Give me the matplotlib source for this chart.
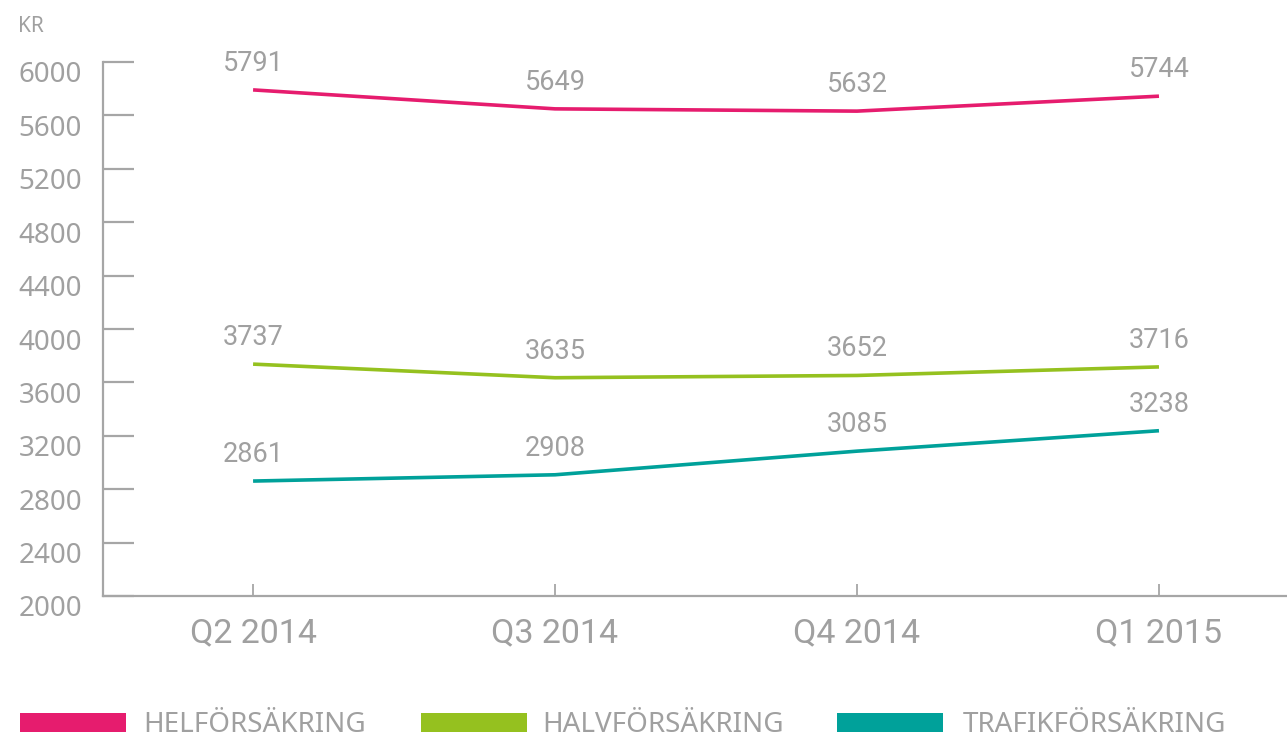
import matplotlib
matplotlib.use("Agg")
import matplotlib.pyplot as plt
import matplotlib.transforms as mtransforms
from matplotlib.patches import Rectangle

categories = ["Q2 2014", "Q3 2014", "Q4 2014", "Q1 2015"]
series_names = ["HELFÖRSÄKRING", "HALVFÖRSÄKRING", "TRAFIKFÖRSÄKRING"]
hel = [5791, 5649, 5632, 5744]
halv = [3737, 3635, 3652, 3716]
trafik = [2861, 2908, 3085, 3238]
yticks = [2000, 2400, 2800, 3200, 3600, 4000, 4400, 4800, 5200, 5600, 6000]
unit_label = "KR"

colors = ["#E61C6E", "#95C11F", "#00A19A"]
gray = "#A6A6A6"
text_gray = "#A0A0A0"
narrow = ["Roboto", "DejaVu Sans"]

W, H = 1287, 737
fig = plt.figure(figsize=(W / 100, H / 100), dpi=100)
ax = fig.add_axes([103 / W, 1 - 596 / H, 1 - 103 / W, (596 - 62) / H])

x = list(range(len(categories)))
for vals, c in zip([hel, halv, trafik], colors):
    ax.plot(x, vals, color=c, lw=2.6, solid_capstyle="butt", zorder=3)
    for xi, v in zip(x, vals):
        ax.annotate(str(v), (xi, v), xytext=(0, 19), textcoords="offset pixels",
                    ha="center", va="baseline", fontsize=19.5, fontweight="normal",
                    family=narrow, color=text_gray)

ax.set_xlim(-0.497, 3.424)
ax.set_ylim(2000, 6000)
ax.set_yticks(yticks)
ax.set_yticklabels([str(t) for t in yticks])
ax.set_xticks(x)
ax.set_xticklabels(categories)

for s in ["top", "right"]:
    ax.spines[s].set_visible(False)
for s in ["left", "bottom"]:
    ax.spines[s].set_color(gray)
    ax.spines[s].set_linewidth(1.6)

ax.tick_params(axis="y", direction="in", length=22, width=1.6, color=gray,
               pad=15, labelsize=20, labelcolor=text_gray)
ax.tick_params(axis="x", direction="in", length=9, width=1.3, color=gray,
               pad=15, labelsize=24.5, labelcolor=text_gray)
for lab in ax.get_yticklabels():
    lab.set_family(["Noto Sans", "DejaVu Sans"])
    lab.set_transform(lab.get_transform() +
                      mtransforms.ScaledTranslation(0, -10 / 100, fig.dpi_scale_trans))
for lab in ax.get_xticklabels():
    lab.set_family(narrow)
    lab.set_fontweight("normal")

fig.text(18 / W, 1 - 32 / H, unit_label, fontsize=15, color=text_gray,
         family=["Noto Sans", "DejaVu Sans"], va="baseline", ha="left")

patch_x = [20, 421, 837]
text_x = [143, 542, 963]
for name, c, px, tx in zip(series_names, colors, patch_x, text_x):
    fig.add_artist(Rectangle((px / W, 1 - 732 / H), 106 / W, 19 / H,
                             transform=fig.transFigure, color=c, lw=0))
    fig.text(tx / W, 1 - 732 / H, name, fontsize=20, color=text_gray,
             family=["Noto Sans", "DejaVu Sans"], va="baseline", ha="left")

fig.savefig("out.png", dpi=100)
